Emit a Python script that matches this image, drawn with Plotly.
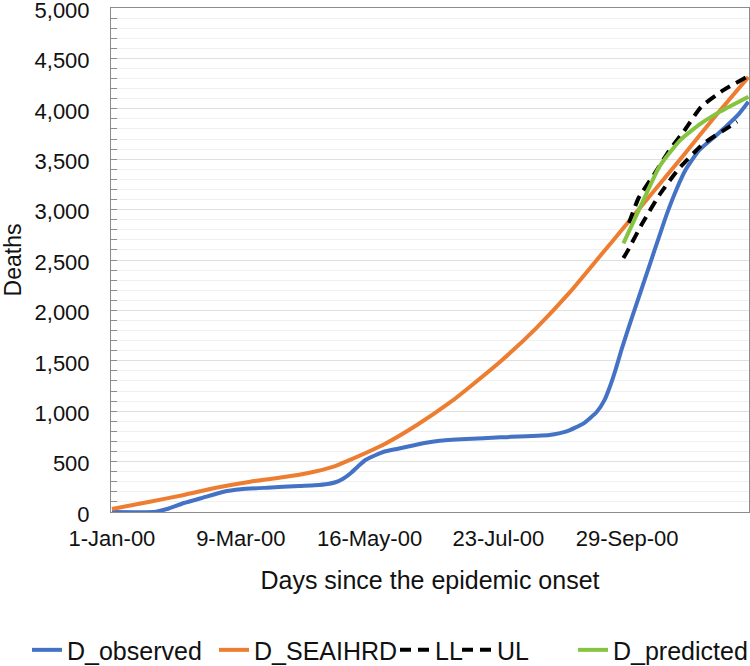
import plotly.graph_objects as go

# ---- data (x = day number since 1-Jan-00) ----
obs_day = [1, 23, 26, 31, 39, 48, 60, 69, 83, 100, 108, 115, 119, 123, 127, 131, 135, 140, 145, 152, 158, 166, 174,
           188, 206, 232, 241, 250, 257, 261, 264, 267, 270, 275, 280, 285, 290, 294, 299, 304, 311, 322, 332, 337]
obs_val = [0, 0, 10, 35, 89, 136, 201, 225, 241, 258, 265, 278, 295, 330, 385, 455, 518, 563, 600, 628, 652, 685, 707,
           724, 741, 764, 800, 880, 995, 1110, 1250, 1420, 1610, 1900, 2180, 2460, 2740, 2960, 3200, 3400, 3590, 3770, 3950, 4070]

seai_day = [1, 21, 39, 56, 74, 91, 104, 118, 127, 144, 162, 180, 190, 207, 225, 243, 260, 271, 281, 302, 320, 337]
seai_val = [30, 102, 169, 241, 301, 344, 384, 450, 520, 665, 863, 1094, 1243, 1508, 1825, 2186, 2569, 2817, 3046, 3522, 3938, 4315]

ll_day = [271, 273, 281, 290, 300, 313, 327, 331]
ll_val = [2520, 2583, 2864, 3145, 3400, 3651, 3823, 3872]

ul_day = [274, 279, 287, 295, 303, 312, 324, 336]
ul_val = [2867, 3115, 3343, 3581, 3780, 4018, 4187, 4315]

pred_day = [271, 280, 290, 301, 312, 322, 337]
pred_val = [2665, 3029, 3426, 3690, 3856, 3972, 4120]

tick_days = [1, 69, 137, 205, 273]
tick_text = ["1-Jan-00", "9-Mar-00", "16-May-00", "23-Jul-00", "29-Sep-00"]

FONT = "Liberation Sans, Arial, sans-serif"
BLUE, ORANGE, GREEN = "#4472C4", "#ED7D31", "#84C441"
SM = 0.5

fig = go.Figure()
fig.add_trace(go.Scatter(x=obs_day, y=obs_val, mode="lines", name="D_observed",
                         line=dict(color=BLUE, width=4, shape="spline", smoothing=SM),
                         legend="legend"))
fig.add_trace(go.Scatter(x=seai_day, y=seai_val, mode="lines", name="D_SEAIHRD",
                         line=dict(color=ORANGE, width=4, shape="spline", smoothing=SM),
                         legend="legend2"))
fig.add_trace(go.Scatter(x=ll_day, y=ll_val, mode="lines", name="LL",
                         line=dict(color="black", width=4, dash="11px,7px", shape="spline", smoothing=SM),
                         legend="legend3"))
fig.add_trace(go.Scatter(x=ul_day, y=ul_val, mode="lines", name="UL",
                         line=dict(color="black", width=4, dash="11px,7px", shape="spline", smoothing=SM),
                         legend="legend4"))
fig.add_trace(go.Scatter(x=pred_day, y=pred_val, mode="lines", name="D_predicted",
                         line=dict(color=GREEN, width=4, shape="spline", smoothing=SM),
                         legend="legend5"))

PL, PR, PT, PB = 111, 749, 8, 512
W = PR - PL

def legend_at(px):
    return dict(orientation="h", x=(px - PL) / W, xanchor="left", y=-0.274, yanchor="middle",
                font=dict(family=FONT, size=25, color="#111111"), bgcolor="rgba(0,0,0,0)",
                borderwidth=0, itemwidth=30)

fig.update_layout(
    width=750, height=666,
    margin=dict(l=PL, r=750 - PR, t=PT, b=666 - PB, autoexpand=False),
    paper_bgcolor="white", plot_bgcolor="white",
    font=dict(family=FONT, size=22, color="#111111"),
    showlegend=True,
    legend=legend_at(27),
    legend2=legend_at(214),
    legend3=legend_at(395),
    legend4=legend_at(457),
    legend5=legend_at(573),
)

fig.update_xaxes(
    range=[0.5, 337.3], tickmode="array", tickvals=tick_days, ticktext=tick_text,
    showgrid=False, zeroline=False, showline=True, linecolor="#8c8c8c", linewidth=1, mirror=True,
    ticks="", ticklabelstandoff=7, tickfont=dict(size=22), automargin=False,
    title=dict(text="Days since the epidemic onset", font=dict(size=25), standoff=21),
)
fig.update_yaxes(
    range=[0, 5000], dtick=500, tickformat=",d", ticklabeloverflow="allow", ticklabelshift=2,
    showgrid=True, gridcolor="#e0e0e0", gridwidth=1, zeroline=False,
    showline=True, linecolor="#8c8c8c", linewidth=1, mirror=True,
    ticks="inside", ticklen=6, tickcolor="#8c8c8c", ticklabelstandoff=16, tickfont=dict(size=22),
    automargin=False,
    minor=dict(dtick=100, showgrid=True, gridcolor="#f0f0f0", ticks="inside", ticklen=6, tickcolor="#8c8c8c"),
    title=dict(text="Deaths", font=dict(size=23), standoff=9),
)

fig.write_html("out.html", config={"displayModeBar": False},
               post_script="document.body.style.margin='0';document.body.style.overflow='hidden';")
